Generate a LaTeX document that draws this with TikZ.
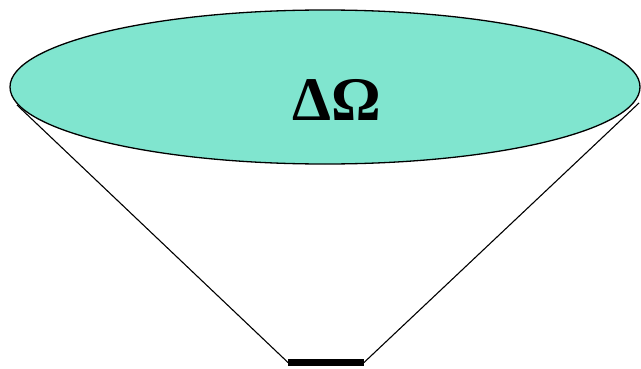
\documentclass[tikz,border=0pt]{standalone}
\usepackage{fontspec}
\setmainfont{Liberation Serif}
\usetikzlibrary{shapes.geometric}
\definecolor{aqua}{HTML}{80E5CF}
\tikzset{
  aperture/.style={ellipse, draw, line width=1.3pt, fill=aqua,
    minimum width=630pt, minimum height=154pt, inner sep=0pt},
  rim/.style={line width=1.1pt},
  detector/.style={line width=7pt}
}

\begin{document}
\begin{tikzpicture}[x=1pt,y=1pt]
\useasboundingbox (0,0) rectangle (641,368);
\node[aperture] (dome) at (325,281) {};
\node[font=\fontsize{62}{62}\selectfont\bfseries, inner sep=0pt] (omega) at (337,268) {ΔΩ};
% rim points and detector ends
\coordinate (rimL) at (17,263);
\coordinate (rimR) at (639,265);
\coordinate (barL) at (288,5.5);
\coordinate (barR) at (364,5.5);
\draw[rim] (rimL) -- (barL);
\draw[rim] (rimR) -- (barR);
\draw[detector] (barL) -- (barR);
\end{tikzpicture}
\end{document}
